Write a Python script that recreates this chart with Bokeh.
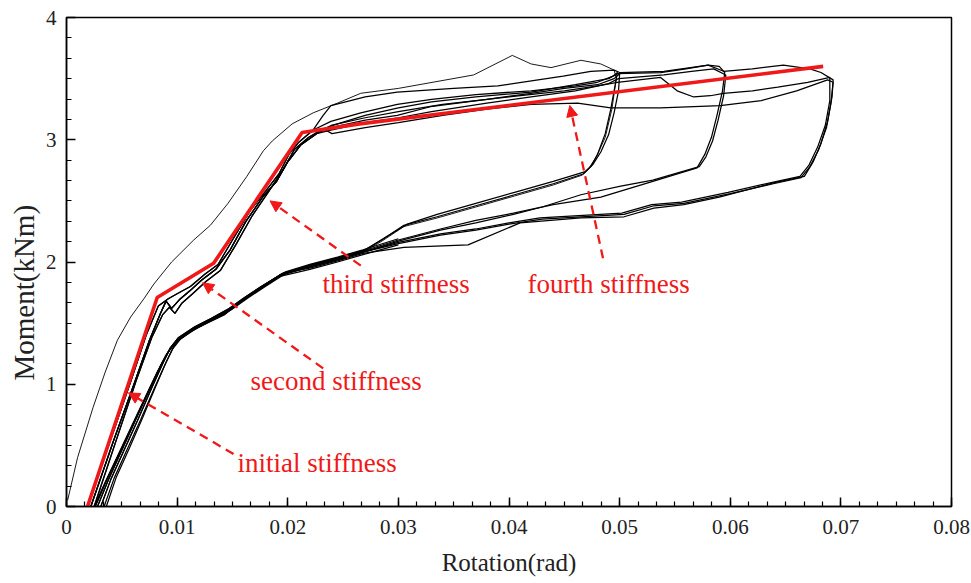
import math
from bokeh.plotting import figure
from bokeh.models import Arrow, NormalHead, SingleIntervalTicker, NumeralTickFormatter, ColumnDataSource, Title
from bokeh.core.properties import value
from bokeh.embed import file_html
from bokeh.resources import INLINE

# ---------------- data (rotation [rad], moment [kNm]) ----------------
# rising (upper) branches near the origin
up_a = [(0.0019,0.0),(0.0040,0.55),(0.0058,1.02),(0.0072,1.40),(0.0083,1.64),(0.0092,1.70),(0.0100,1.74),(0.0112,1.80),(0.0125,1.90),(0.0137,1.98),(0.0150,2.18),(0.0166,2.42),(0.0180,2.58),(0.0192,2.72),(0.0201,2.88),(0.0210,2.98),(0.0223,3.08)]
up_b = [(0.0022,0.0),(0.0043,0.55),(0.0061,1.00),(0.0075,1.36),(0.0085,1.58),(0.0090,1.68),(0.0095,1.62),(0.0103,1.70),(0.0111,1.76),(0.0122,1.85),(0.0135,1.94),(0.0148,2.10),(0.0162,2.33),(0.0178,2.54),(0.0190,2.66),(0.0200,2.82),(0.0212,2.96),(0.0226,3.05)]
up_c = [(0.0025,0.0),(0.0046,0.57),(0.0063,1.03),(0.0077,1.38),(0.0087,1.57),(0.0093,1.63),(0.0098,1.58),(0.0104,1.66),(0.0114,1.74),(0.0126,1.84),(0.0139,1.93),(0.0153,2.14),(0.0168,2.38),(0.0183,2.58),(0.0196,2.76),(0.0206,2.92),(0.0219,3.02),(0.0232,3.09)]

# lower branches back to the origin
lo_a = [(0.0194,1.90),(0.0175,1.79),(0.0160,1.70),(0.0146,1.60),(0.0130,1.53),(0.0115,1.46),(0.0100,1.36),(0.0093,1.28),(0.0085,1.15),(0.0075,0.96),(0.0062,0.70),(0.0050,0.46),(0.0038,0.22),(0.0028,0.0)]
lo_b = [(0.0196,1.91),(0.0176,1.80),(0.0161,1.71),(0.0147,1.62),(0.0131,1.54),(0.0116,1.47),(0.0101,1.38),(0.0094,1.30),(0.0087,1.17),(0.0077,0.97),(0.0064,0.70),(0.0052,0.46),(0.0040,0.22),(0.0031,0.0)]
lo_c = [(0.0193,1.89),(0.0173,1.77),(0.0158,1.68),(0.0144,1.58),(0.0128,1.51),(0.0113,1.44),(0.0098,1.34),(0.0091,1.25),(0.0083,1.11),(0.0073,0.92),(0.0060,0.67),(0.0048,0.44),(0.0036,0.21),(0.0026,0.0)]
lo_d = [(0.0197,1.90),(0.0178,1.79),(0.0163,1.70),(0.0149,1.61),(0.0133,1.53),(0.0118,1.46),(0.0103,1.37),(0.0096,1.29),(0.0089,1.16),(0.0080,0.98),(0.0067,0.71),(0.0055,0.47),(0.0043,0.23),(0.0034,0.0)]
lo_e = [(0.0300,2.19),(0.0268,2.10),(0.0245,2.04),(0.0220,1.98),(0.0198,1.92),(0.0179,1.81),(0.0164,1.72),(0.0150,1.63),(0.0134,1.55),(0.0119,1.48),(0.0104,1.39),(0.0097,1.31),(0.0090,1.18),(0.0081,0.99),(0.0069,0.73),(0.0057,0.48),(0.0045,0.24),(0.0036,0.0)]
lo_f = [(0.0300,2.14),(0.0268,2.06),(0.0245,2.00),(0.0220,1.94),(0.0192,1.88),(0.0172,1.76),(0.0157,1.67),(0.0143,1.57),(0.0127,1.50),(0.0112,1.43),(0.0097,1.33),(0.0090,1.24),(0.0082,1.10),(0.0072,0.91),(0.0059,0.66),(0.0047,0.43),(0.0035,0.20),(0.0025,0.0)]

# cycle 1 (peak ~0.05 rad)
plat1a = [(0.0239,3.15),(0.0266,3.22),(0.0299,3.29),(0.0330,3.33),(0.0370,3.37),(0.0420,3.40),(0.0460,3.44),(0.0480,3.47),(0.0494,3.52),(0.0498,3.55)]
unl1a = [(0.0496,3.45),(0.0492,3.25),(0.0487,3.05),(0.0480,2.88),(0.0474,2.78),(0.0467,2.72)]
low1a = [(0.0440,2.64),(0.0405,2.55),(0.0370,2.46),(0.0335,2.37),(0.0305,2.30),(0.0285,2.18),(0.0268,2.09),(0.0245,2.03),(0.0220,1.97)]
plat1b = [(0.0239,3.10),(0.0270,3.16),(0.0299,3.20),(0.0329,3.27),(0.0380,3.33),(0.0420,3.38),(0.0450,3.42),(0.0480,3.45),(0.0495,3.50),(0.0500,3.54)]
unl1b = [(0.0499,3.40),(0.0495,3.22),(0.0490,3.04),(0.0483,2.90),(0.0476,2.80),(0.0469,2.74)]
low1b = [(0.0440,2.66),(0.0405,2.57),(0.0370,2.48),(0.0335,2.39),(0.0308,2.31),(0.0288,2.20),(0.0270,2.10),(0.0248,2.04),(0.0222,1.98)]

# cycle 2 (peak ~0.06 rad)
plat2a = [(0.0245,3.13),(0.0270,3.20),(0.0300,3.26),(0.0330,3.31),(0.0370,3.35),(0.0420,3.39),(0.0460,3.45),(0.0490,3.50),(0.0498,3.54),(0.0537,3.55),(0.0560,3.58),(0.0580,3.61),(0.0590,3.60),(0.0595,3.55)]
unl2a = [(0.0593,3.40),(0.0588,3.20),(0.0583,3.02),(0.0577,2.88),(0.0570,2.77)]
low2a = [(0.0530,2.66),(0.0483,2.53),(0.0440,2.47),(0.0404,2.40),(0.0370,2.34),(0.0338,2.27),(0.0300,2.18),(0.0268,2.09),(0.0245,2.03),(0.0220,1.97)]
plat2b = [(0.0240,3.08),(0.0270,3.14),(0.0300,3.18),(0.0330,3.23),(0.0380,3.30),(0.0420,3.35),(0.0460,3.40),(0.0490,3.46),(0.0499,3.50),(0.0540,3.53),(0.0565,3.56),(0.0585,3.58),(0.0596,3.53)]
unl2b = [(0.0594,3.36),(0.0589,3.16),(0.0584,2.99),(0.0578,2.86),(0.0572,2.78)]
low2b = [(0.0530,2.67),(0.0501,2.62),(0.0465,2.55),(0.0430,2.45),(0.0404,2.39),(0.0370,2.32),(0.0338,2.26),(0.0300,2.17),(0.0268,2.08),(0.0245,2.02),(0.0220,1.96)]

# cycle 3 (peak ~0.07 rad)
plat3a = [(0.0240,3.05),(0.0270,3.10),(0.0300,3.14),(0.0340,3.20),(0.0380,3.25),(0.0420,3.29),(0.0462,3.30),(0.0492,3.26),(0.0537,3.26),(0.0591,3.28),(0.0628,3.32),(0.0660,3.40),(0.0688,3.49),(0.0693,3.47)]
unl3a = [(0.0691,3.30),(0.0687,3.10),(0.0680,2.92),(0.0672,2.78),(0.0664,2.69)]
low3a = [(0.0639,2.64),(0.0600,2.56),(0.0558,2.48),(0.0531,2.46),(0.0504,2.39),(0.0465,2.37),(0.0430,2.35),(0.0400,2.31),(0.0370,2.26),(0.0338,2.22),(0.0300,2.15),(0.0268,2.08),(0.0245,2.02),(0.0220,1.96)]
plat3b = [(0.0232,3.20),(0.0239,3.28),(0.0270,3.35),(0.0299,3.39),(0.0350,3.42),(0.0390,3.44),(0.0449,3.52),(0.0474,3.56),(0.0495,3.57),(0.0500,3.55),(0.0540,3.56),(0.0580,3.61),(0.0594,3.56),(0.0620,3.58),(0.0648,3.61),(0.0672,3.58),(0.0682,3.55),(0.0693,3.49)]
unl3b = [(0.0692,3.35),(0.0688,3.15),(0.0682,2.97),(0.0675,2.82),(0.0667,2.70)]
low3b = [(0.0640,2.65),(0.0590,2.53),(0.0558,2.47),(0.0531,2.44),(0.0504,2.37),(0.0465,2.36),(0.0410,2.32),(0.0363,2.14),(0.0305,2.12),(0.0268,2.07),(0.0245,2.01),(0.0220,1.95)]
plat3c = [(0.0240,3.12),(0.0270,3.18),(0.0300,3.23),(0.0340,3.29),(0.0400,3.35),(0.0450,3.40),(0.0480,3.44),(0.0498,3.47),(0.0537,3.51),(0.0552,3.40),(0.0567,3.35),(0.0582,3.36),(0.0594,3.38),(0.0620,3.40),(0.0643,3.43),(0.0670,3.47),(0.0690,3.51)]
unl3c = [(0.0690,3.32),(0.0686,3.12),(0.0679,2.94),(0.0671,2.79),(0.0663,2.70)]
low3c = [(0.0637,2.65),(0.0598,2.57),(0.0556,2.49),(0.0529,2.47),(0.0502,2.40),(0.0463,2.38),(0.0428,2.36),(0.0400,2.32),(0.0370,2.27),(0.0338,2.23),(0.0300,2.16),(0.0268,2.08),(0.0245,2.02),(0.0220,1.96)]

# outlying first-cycle curve
outlier = [(0.0001,0.05),(0.0010,0.40),(0.0024,0.81),(0.0035,1.10),(0.0046,1.36),(0.0058,1.55),(0.0070,1.70),(0.0079,1.82),(0.0095,2.00),(0.0115,2.18),(0.0130,2.30),(0.0146,2.48),(0.0163,2.70),(0.0178,2.91),(0.0186,2.99),(0.0204,3.13),(0.0223,3.22),(0.0245,3.30),(0.0266,3.38),(0.0300,3.42),(0.0368,3.53),(0.0403,3.69),(0.0420,3.62),(0.0438,3.59),(0.0465,3.65),(0.0483,3.62),(0.0495,3.57),(0.0497,3.50),(0.0493,3.25),(0.0487,3.02),(0.0479,2.86),(0.0471,2.75),(0.0466,2.71),(0.0440,2.63),(0.0405,2.54),(0.0370,2.45),(0.0335,2.36),(0.0305,2.29),(0.0285,2.17),(0.0268,2.08)]

# multi-linear stiffness model (red)
skel_rot = [0.0019, 0.0082, 0.0133, 0.0213, 0.0265, 0.0684]
skel_mom = [0.0, 1.71, 1.99, 3.06, 3.13, 3.60]

# annotations
ann_text = ["initial stiffness", "second stiffness", "third stiffness", "fourth stiffness"]
ann_rot = [0.01546, 0.01664, 0.02315, 0.04168]
ann_mom = [0.352, 1.03, 1.824, 1.824]
arrow_tail_rot = [0.0151, 0.0232, 0.0266, 0.0485]
arrow_tail_mom = [0.43, 1.13, 1.97, 2.03]
arrow_tip_rot = [0.0056, 0.0123, 0.0184, 0.0455]
arrow_tip_mom = [0.93, 1.83, 2.50, 3.28]

x_label = "Rotation(rad)"
y_label = "Moment(kNm)"

loops = [
    up_a + plat1a + unl1a + low1a + lo_a,
    up_b + plat1b + unl1b + low1b + lo_b,
    up_c + plat2a + unl2a + low2a + lo_c,
    up_b + plat2b + unl2b + low2b + lo_d,
    up_c + plat3a + unl3a + low3a + lo_a,
    up_a + plat3b + unl3b + low3b + lo_b,
    up_b + plat3c + unl3c + low3c + lo_c,
    lo_e,
    lo_f,
    outlier,
]

RED = "#f01818"
SERIF = "Liberation Serif"

p = figure(width=971, height=583, x_range=(0, 0.08), y_range=(0, 4),
           output_backend="svg", toolbar_location=None,
           min_border_left=66, min_border_right=20, min_border_top=17, min_border_bottom=77)
p.grid.visible = False
p.outline_line_color = "black"
p.outline_line_width = 1.5
p.background_fill_color = "white"
p.border_fill_color = "white"

for k, lp in enumerate(loops):
    p.line([a for a, b in lp], [b for a, b in lp], line_color="black",
           line_width=0.9 if k == len(loops) - 1 else 1.25)

p.line(skel_rot, skel_mom, line_color=RED, line_width=3.6)

for i in range(len(ann_text)):
    p.add_layout(Arrow(end=NormalHead(size=11, fill_color=RED, line_color=RED, line_width=1),
                       x_start=arrow_tail_rot[i], y_start=arrow_tail_mom[i],
                       x_end=arrow_tip_rot[i], y_end=arrow_tip_mom[i],
                       line_color=RED, line_width=2.3, line_dash="9 6"))

src = ColumnDataSource(dict(x=ann_rot, y=ann_mom, t=ann_text))
p.text(x="x", y="y", text="t", source=src, text_font=value(SERIF), text_font_size="27px",
       text_color=RED, text_align="left", text_baseline="middle")

for ax in (p.xaxis[0], p.yaxis[0]):
    ax.major_tick_in = 9
    ax.major_tick_out = 0
    ax.minor_tick_in = 5
    ax.minor_tick_out = 0
    ax.axis_line_width = 1.5
    ax.major_tick_line_width = 1.5
    ax.minor_tick_line_width = 1.2
    ax.major_label_text_font = SERIF
    ax.major_label_text_font_size = "21px"
    ax.major_label_text_color = "#222222"
    ax.axis_label_text_font = SERIF
    ax.axis_label_text_font_style = "normal"
    ax.axis_label_text_color = "#222222"

p.xaxis.ticker = SingleIntervalTicker(interval=1e-2, num_minor_ticks=6)
p.xaxis.formatter = NumeralTickFormatter(format="0.[00]")
p.xaxis.major_label_standoff = 13
p.xaxis.axis_label = x_label
p.xaxis.axis_label_text_font_size = "25px"
p.xaxis.axis_label_standoff = 12

p.yaxis.ticker = SingleIntervalTicker(interval=1, num_minor_ticks=6)
p.yaxis.formatter = NumeralTickFormatter(format="0")
p.yaxis.major_label_standoff = 10

p.add_layout(Title(text=y_label, align="left", offset=126, standoff=5,
                   text_font=SERIF, text_font_size="29px", text_font_style="normal",
                   text_color="#222222"), "left")

open("out.html", "w").write(file_html(p, INLINE))
